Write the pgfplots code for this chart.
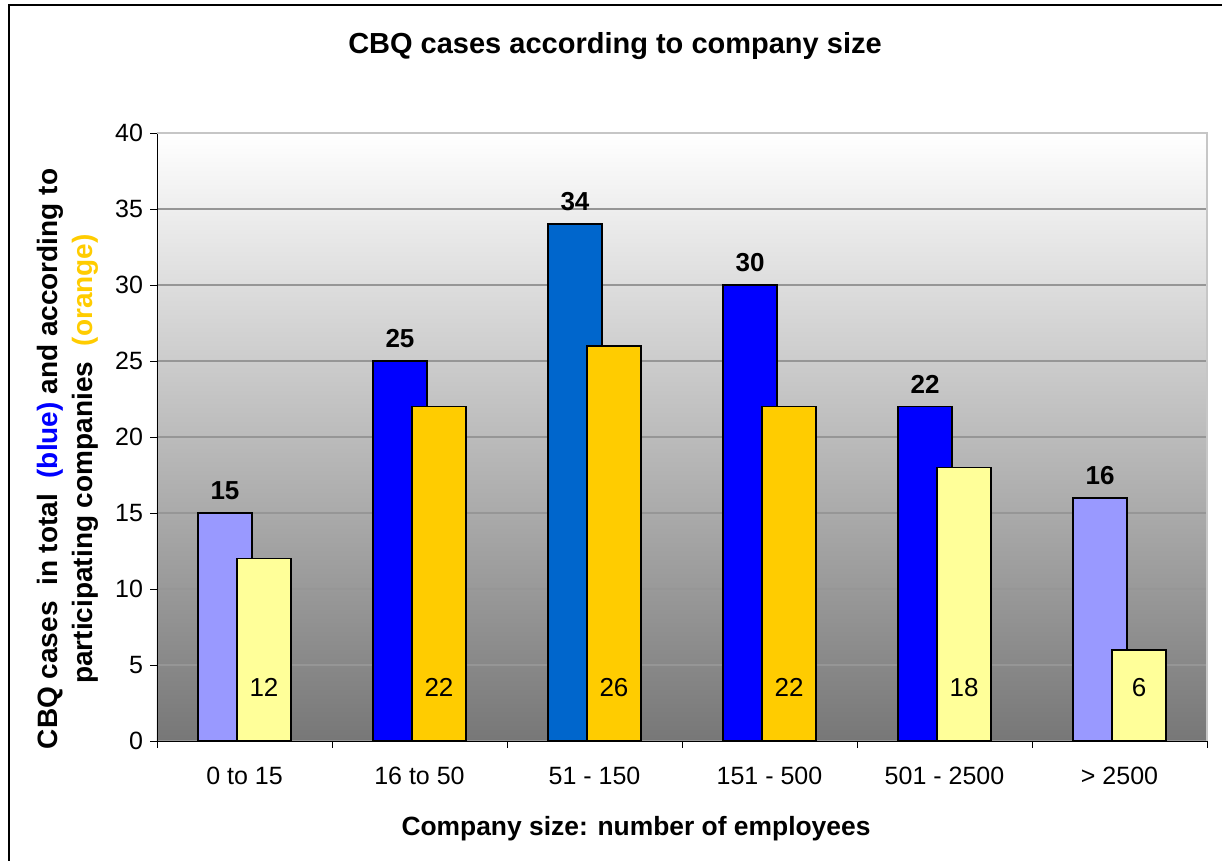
\documentclass[border=0pt]{standalone}
\usepackage{pgfplots}
\pgfplotsset{compat=1.18}
\usepackage{fontspec}
\setmainfont{Liberation Sans}
\definecolor{lav}{HTML}{9999FF}
\definecolor{pureblue}{HTML}{0000FF}
\definecolor{midblue}{HTML}{0066CC}
\definecolor{lightyel}{HTML}{FFFF99}
\definecolor{gold}{HTML}{FFCC00}
\definecolor{gridgray}{HTML}{969696}
\begin{document}
\begin{tikzpicture}
\useasboundingbox (-78.5pt,-60pt) rectangle (532.5pt,370.5pt);
\draw[line width=1pt] (-74pt,-70pt) -- (-74pt,368pt) -- (540pt,368pt);
\begin{axis}[
  scale only axis, width=525pt, height=304pt,
  xmin=-0.5, xmax=5.5, ymin=0, ymax=40,
  ybar, bar width=27pt,
  axis background/.style={shade, top color=white, bottom color={rgb,255:red,119;green,119;blue,119}},
  separate axis lines,
  axis x line*=bottom, axis y line*=left,
  axis line style={-, black},
  xtick={0,...,5},
  xticklabels={0 to 15, 16 to 50, 51 - 150, 151 - 500, 501 - 2500, > 2500},
  minor xtick={-0.5,0.5,...,5.5},
  major x tick style={draw=none},
  ytick={0,5,...,40},
  tick align=outside,
  major tick length=3.5pt, minor tick length=3.5pt,
  tick style={black, thin},
  ymajorgrids, grid style={gridgray, line width=0.8pt},
  /pgf/number format/assume math mode=true,
  tick label style={font=\fontsize{12.5}{15}\selectfont},
  xticklabel style={yshift=-6pt},
  clip=false,
]
% total cases (blue)
\addplot[bar shift=-9.75pt, fill=lav, draw=black, line width=0.75pt,
  nodes near coords, every node near coord/.append style={font=\fontsize{13}{15}\bfseries, yshift=3pt}]
  coordinates {(0,15) (5,16)};
\addplot[bar shift=-9.75pt, fill=pureblue, draw=black, line width=0.75pt,
  nodes near coords, every node near coord/.append style={font=\fontsize{13}{15}\bfseries, yshift=3pt}]
  coordinates {(1,25) (3,30) (4,22)};
\addplot[bar shift=-9.75pt, fill=midblue, draw=black, line width=0.75pt,
  nodes near coords, every node near coord/.append style={font=\fontsize{13}{15}\bfseries, yshift=3pt}]
  coordinates {(2,34)};
% participating companies (orange)
\addplot[bar shift=9.75pt, fill=lightyel, draw=black, line width=0.75pt]
  coordinates {(0,12) (4,18) (5,6)};
\addplot[bar shift=9.75pt, fill=gold, draw=black, line width=0.75pt]
  coordinates {(1,22) (2,26) (3,22)};
% labels inside the orange bars
\addplot[bar shift=9.75pt, draw=none, fill=none,
  nodes near coords, point meta=explicit,
  every node near coord/.append style={anchor=center, font=\fontsize{13}{15}\selectfont}]
  coordinates {(0,3.5) [12] (1,3.5) [22] (2,3.5) [26] (3,3.5) [22] (4,3.5) [18] (5,3.5) [6]};
\draw[gray!45, line width=0.8pt] (rel axis cs:0,1) -- (rel axis cs:1,1) -- (rel axis cs:1,0);
\end{axis}
\node[font=\fontsize{14.5}{17}\bfseries] at (229pt,347.5pt) {CBQ cases according to company size};
\node[font=\fontsize{13.2}{15}\bfseries] at (239.5pt,-44pt) {Company size: number of employees};
\node[rotate=90, align=center, font=\fontsize{14}{17.5}\bfseries] at (-44.75pt,141pt)
  {CBQ cases\ \ in total\ \ \textcolor{pureblue}{(blue)} and according to\\
   participating companies\ \ \textcolor{gold}{(orange)}};
\end{tikzpicture}
\end{document}
